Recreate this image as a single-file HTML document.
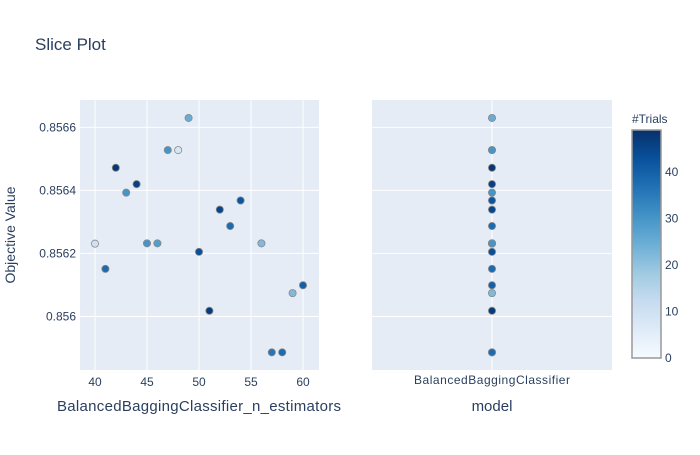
<!DOCTYPE html>
<html><head><meta charset="utf-8"><style>
body{margin:0;background:#fff;font-family:"Liberation Sans",sans-serif;}
svg text{font-family:"Liberation Sans",sans-serif;fill:#2a3f5f;}
</style></head><body>
<svg id="c" width="700" height="450"></svg>
<script>
const nEstimators=[49,47,48,42,44,43,54,52,53,40,45,46,56,50,41,60,59,51,57,58];
const objective=[0.85663,0.856528,0.856528,0.856472,0.85642,0.856393,0.856368,0.856339,0.856287,0.856231,0.856232,0.856232,0.856232,0.856205,0.856151,0.856099,0.856074,0.856018,0.855886,0.855886];
const trials=[25,30,8,48,46,30,42,45,38,10,30,28,22,43,38,40,22,47,36,38];
const xTicks=[40,45,50,55,60];
const yTicks=[0.856,0.8562,0.8564,0.8566];
const yTickLabels=["0.856","0.8562","0.8564","0.8566"];
const cbTicks=[0,10,20,30,40];
const NS="http://www.w3.org/2000/svg";
const svg=document.getElementById('c');
function mk(t,a,p){const e=document.createElementNS(NS,t);for(const k in a)e.setAttribute(k,a[k]);(p||svg).appendChild(e);return e;}
const plotTop=100,plotBot=370,yMin=0.85583,yMax=0.856687;
const y=v=>plotBot-(v-yMin)/(yMax-yMin)*(plotBot-plotTop);
const L={x0:80,x1:319},R={x0:372,x1:612};
const x=v=>95+(v-40)*10.4;
const cmax=49;
const stops=[[0,[247,251,255]],[0.125,[222,235,247]],[0.25,[198,219,239]],[0.375,[158,202,225]],[0.5,[107,174,214]],[0.625,[66,146,198]],[0.75,[33,113,181]],[0.875,[8,81,156]],[1,[8,48,107]]];
function col(t){let f=Math.max(0,Math.min(1,t/cmax));for(let i=1;i<stops.length;i++){if(f<=stops[i][0]){const a=stops[i-1],b=stops[i],u=(f-a[0])/(b[0]-a[0]);return 'rgb('+a[1].map((c,j)=>Math.round(c+(b[1][j]-c)*u)).join(',')+')';}}return 'rgb(8,48,107)';}
let tt=mk('text',{x:35,y:50,'font-size':17});tt.textContent='Slice Plot';


[L,R].forEach((P,i)=>{const r=mk('rect',{x:P.x0,y:plotTop,width:P.x1-P.x0,height:plotBot-plotTop,fill:'#e5ecf6'});


yTicks.forEach(v=>{const g=mk('line',{x1:P.x0,x2:P.x1,y1:y(v),y2:y(v),stroke:'#fff','stroke-width':1});

});});
xTicks.forEach(v=>{const g=mk('line',{x1:x(v),x2:x(v),y1:plotTop,y2:plotBot,stroke:'#fff'});


const tx=mk('text',{x:x(v),y:386,'font-size':12,'text-anchor':'middle'});tx.textContent=v;

});
const rc=(R.x0+R.x1)/2;
const mg=mk('line',{x1:rc,x2:rc,y1:plotTop,y2:plotBot,stroke:'#fff'});


yTicks.forEach((v,i)=>{const tx=mk('text',{x:76,y:y(v)+4,'font-size':12,'text-anchor':'end'});tx.textContent=yTickLabels[i];

});
let mt=mk('text',{x:rc,y:384,'font-size':12,'text-anchor':'middle',textLength:156});mt.textContent='BalancedBaggingClassifier';


let xt=mk('text',{x:199,y:411,'font-size':15,'text-anchor':'middle',textLength:284});xt.textContent='BalancedBaggingClassifier_n_estimators';


let xt2=mk('text',{x:rc,y:411,'font-size':15,'text-anchor':'middle'});xt2.textContent='model';


let yt=mk('text',{x:15,y:235,'font-size':14,'text-anchor':'middle',transform:'rotate(-90 15 235)'});yt.textContent='Objective Value';


const order=nEstimators.map((_,i)=>i).sort((a,b)=>trials[a]-trials[b]);
order.forEach(i=>{const n=nEstimators[i];const c=mk('circle',{cx:x(n),cy:y(objective[i]),r:3.6,fill:col(trials[i]),stroke:'#888','stroke-width':0.8});


const c2=mk('circle',{cx:rc,cy:y(objective[i]),r:3.6,fill:col(trials[i]),stroke:'#888','stroke-width':0.8});

});
const defs=mk('defs',{});const lg=mk('linearGradient',{id:'g',x1:0,y1:1,x2:0,y2:0},defs);
stops.forEach(s=>mk('stop',{offset:s[0],'stop-color':'rgb('+s[1].join(',')+')'},lg));
const cbTop=130,cbBot=358,cy=v=>cbBot-v/cmax*(cbBot-cbTop);
const cb=mk('rect',{x:632,y:cbTop,width:29,height:cbBot-cbTop,fill:'url(#g)',stroke:'#999','stroke-width':1.5});


cbTicks.forEach(v=>{const tx=mk('text',{x:665,y:cy(v)+4,'font-size':12});tx.textContent=v;

});
let ct=mk('text',{x:632,y:123,'font-size':12});ct.textContent='#Trials';


</script></body></html>
